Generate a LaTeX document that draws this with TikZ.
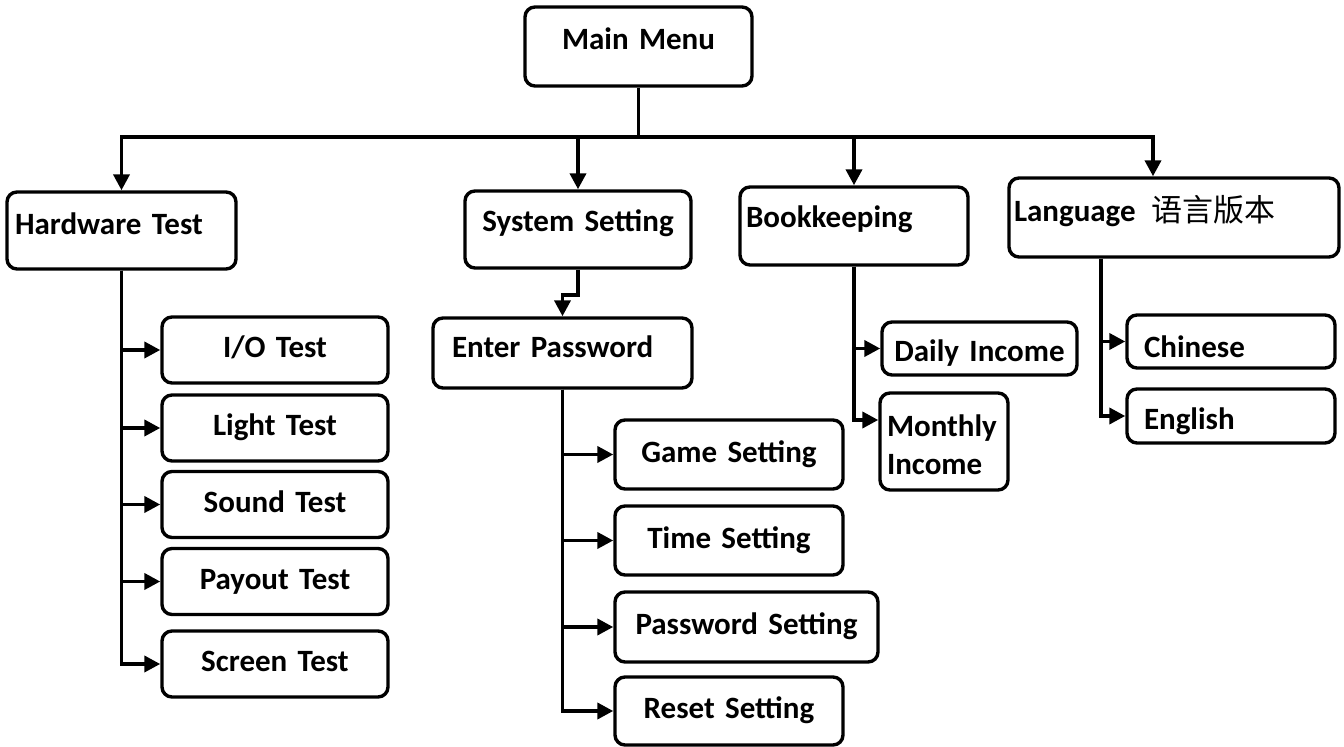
\documentclass[tikz,border=0pt]{standalone}
\usepackage{fontspec}
\setmainfont{Carlito}
\newfontfamily\cjk{Noto Sans CJK SC}
\usepackage{tikz}
\usetikzlibrary{arrows.meta}

\begin{document}
\begin{tikzpicture}[x=0.5pt,y=-0.5pt,
  font=\fontsize{15.5}{19}\selectfont\bfseries,
  box/.style={draw, line width=1.7pt, rounded corners=5pt, inner xsep=0pt, inner ysep=0pt, align=center, text height=10pt, text depth=2pt},
  lbox/.style={box, align=left},
  conn/.style={line width=1.9pt, -{Triangle[length=8pt,width=8pt]}}]
\useasboundingbox (0,0) rectangle (1344,747);

\node [box, text width=113.5pt, minimum height=39.5pt, text depth=6.5pt] (menu) at (638.5,46.5) {Main Menu};
\coordinate (bus) at (638.5,137);

\node [lbox, inner xsep=4pt, text width=106.5pt, minimum height=38.5pt, text depth=5.5pt] (hw) at (121.5,230.5) {Hardware Test};
\node [box, text width=113pt, minimum height=38.5pt, text depth=7.5pt] (sys) at (578,229.5) {System Setting};
\node [lbox, inner xsep=3pt, text width=108pt, minimum height=39pt, text depth=8pt] (book) at (854,226) {Bookkeeping};
\node [lbox, inner xsep=2.5pt, text width=160pt, minimum height=39.5pt, text depth=5.5pt] (lang) at (1174,217.5) {Language\hspace{8pt}{\cjk\mdseries 语言版本}};

\draw [line width=1.9pt] (menu.south) -- (bus);
\draw [conn] (bus) -| (hw.north); \draw [conn] (bus) -| (sys.north);
\draw [conn] (bus) -| (book.north); \draw [conn] (bus) -| ([xshift=-10.5pt]lang.north);

% hardware test
\node [box, text width=113pt, minimum height=33pt] (io) at (275,350) {I/O Test};
\node [box, text width=113pt, minimum height=33pt] (light) at (275,428) {Light Test};
\node [box, text width=113pt, minimum height=33pt] (sound) at (275,504.5) {Sound Test};
\node [box, text width=113pt, minimum height=33pt] (payout) at (275,581.5) {Payout Test};
\node [box, text width=113pt, minimum height=33pt] (screen) at (275,664) {Screen Test};
\foreach \t in {io,light,sound,payout,screen} \draw [conn] (hw.south) |- (\t.west);

% system setting
\node [lbox, inner xsep=9.5pt, text width=110.5pt, minimum height=35pt, text depth=5pt] (pwd) at (562.5,353) {Enter Password};
\draw [conn] (sys.south) -- ++(0,25) -| (pwd.north);
\node [box, text width=114pt, minimum height=34.5pt] (game) at (729,454.5) {Game Setting};
\node [box, text width=114pt, minimum height=34.5pt] (time) at (729,540.5) {Time Setting};
\node [box, text width=131.5pt, minimum height=35pt] (pwset) at (746.5,627) {Password Setting};
\node [box, text width=114pt, minimum height=34pt] (reset) at (729,711) {Reset Setting};
\foreach \t in {game,time,pwset,reset} \draw [conn] (pwd.south) |- (\t.west);

% bookkeeping
\node [box, text width=97.5pt, minimum height=26.5pt, text height=13.5pt, text depth=0pt] (daily) at (979.5,348.5) {Daily Income};
\node [lbox, inner xsep=3.5pt, text width=57pt, minimum height=48.5pt, text height=14.5pt, text depth=19pt] (monthly) at (944,441.5) {Monthly\\Income};
\draw [conn] (book.south) |- (daily.west);
\draw [conn] (book.south) |- ([yshift=10.75pt]monthly.west);

% language
\node [lbox, inner xsep=8.5pt, text width=87pt, minimum height=26.5pt, text height=16.5pt, text depth=0pt] (chinese) at (1231,341.5) {Chinese};
\node [lbox, inner xsep=8.5pt, text width=87pt, minimum height=27pt, text height=14pt, text depth=0pt] (english) at (1231,416) {English};
\draw [conn] ([xshift=-36.5pt]lang.south) |- (chinese.west);
\draw [conn] ([xshift=-36.5pt]lang.south) |- (english.west);

\end{tikzpicture}
\end{document}
